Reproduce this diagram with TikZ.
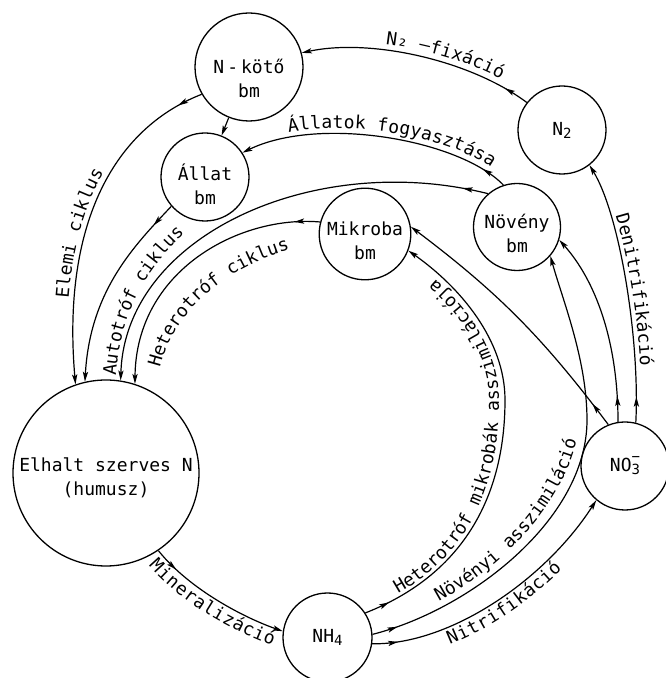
\documentclass[tikz,border=0pt]{standalone}
\usepackage{fontspec}
\setmainfont{DejaVu Sans Mono}
\usetikzlibrary{arrows.meta,decorations.markings,decorations.text}
\newcommand\lbl{\fontsize{18}{24}\selectfont}
\newcommand\lbls{\fontsize{18}{24}\selectfont\addfontfeature{LetterSpace=6}}
\newcommand\smn{\fontsize{14}{14}\selectfont}
\newcommand\dn[1]{\rule{0pt}{#1}}
\begin{document}
\begin{tikzpicture}[x=1pt,y=1pt,
  >={Stealth[length=10pt,width=5.2pt,inset=2.2pt]},
  bub/.style={circle, draw, line width=1.3pt, inner sep=0pt, align=center, font=\lbl},
  link/.style={line width=1.2pt},
  fwd/.style={link, ->, postaction={decorate, decoration={markings, mark=at position 26pt with {\arrow{>}}}}},
  bwd/.style={link, <-, postaction={decorate, decoration={markings, mark=at position -26pt with {\arrowreversed{>}}}}},
  lab/.style n args={3}{postaction={decorate, decoration={text along path, text={|\lbl|#2}, raise=#1, text align={#3}}}},
  tlab/.style n args={2}{decorate, decoration={text along path, text={|\lbl|#1}, text align={#2}}},
  slab/.style n args={2}{decorate, decoration={text along path, text={|\lbls|#1}, text align={#2}}}]
\useasboundingbox (0,0) rectangle (666,678);
% nodes
\node[bub, minimum size=108pt] (nk) at (249,611) {\dn{37pt}N\,-\,kötő\\bm};
\node[bub, minimum size=88pt] (al) at (205,501) {\dn{31pt}Állat\\bm};
\node[bub, minimum size=89pt] (mi) at (365,444) {\dn{27pt}Mikroba\\bm};
\node[bub, minimum size=87pt] (nv) at (517,451) {\dn{27pt}Növény\\bm};
\node[bub, minimum size=88pt] (n2) at (562,548) {N\raisebox{-3pt}{\smn 2}};
\node[bub, minimum size=88pt] (no3) at (625,212) {NO\raisebox{-3pt}{\smn 3}\llap{\raisebox{10pt}{\smn −}}};
\node[bub, minimum size=186pt] (eh) at (106,205) {\dn{24pt}Elhalt szerves N\\(humusz)};
\node[bub, minimum size=89pt] (nh4) at (327.5,40.5) {NH\raisebox{-3pt}{\smn 4}};
\coordinate (k1) at (505,278);
\coordinate (k2) at (587,258);
% connectors
\draw[bwd, lab={6pt}{N₂ –fixáció}{align=center, left indent=50pt}] (nk.15) .. controls (370,640) and (470,618) .. (n2.142);
\draw[bwd, lab={6pt}{Állatok  fogyasztása}{align=center, left indent=30pt}] (al.33) .. controls (320,563) and (460,538) .. (nv.108);
\draw[bwd, lab={6pt}{Elemi  ciklus}{align=center, right indent=40pt}] (eh.109) .. controls (62,448) and (110,548) .. (nk.210);
\draw[bwd] (eh.81) .. controls (125,443) and (315,528) .. (nv.131);
\draw[bwd] (eh.72) .. controls (136,408) and (240,463) .. (mi.165);
\draw[fwd] (al.221) .. controls (135,433) and (90,388) .. (eh.103);
\draw[link, ->] (nk) -- (al);
\draw[fwd, lab={-17pt}{Mineralizáció}{align=center}] (eh.-56) .. controls (190,88) and (245,60) .. (nh4.172);
\draw[fwd] (nh4.33) .. controls (460,102) and (505,178) .. (k1) .. controls (505,338) and (460,391) .. (mi.-21);
\draw[fwd] (nh4.4.5) .. controls (469,68) and (587,158) .. (k2) .. controls (587,318) and (563,377) .. (nv.-41);
\draw[fwd, lab={-17pt}{Nitrifikáció}{align=center}] (nh4.-8) .. controls (450,33) and (545,98) .. (no3.230);
\draw[bwd, lab={5pt}{Denitrifikáció}{align=center}] (n2.-52) .. controls (620,463) and (640,338) .. (no3.76);
\draw[fwd] (no3.112) to[bend right=8] (mi.9);
\draw[fwd] (no3.99) .. controls (618,338) and (595,398) .. (nv.-17);
% labels set on their own baselines
\path[tlab={Autotróf ciklus}{align=left}] (116,302) .. controls (120,358) and (140,403) .. (184,444);
\path[tlab={Heterotróf ciklus}{align=left}] (160,310) .. controls (172,360) and (215,406) .. (288,428);
\path[slab={Heterotróf mikrobák asszimilációja}{align=center}] (372,72) .. controls (458,107) and (499,178) .. (499,278) .. controls (499,335) and (457,385) .. (412,416);
\path[slab={Növényi asszimiláció}{align=left, left indent=68pt}] (376,51) .. controls (467,74) and (581,168) .. (581,273) -- (581,292);
\end{tikzpicture}
\end{document}
